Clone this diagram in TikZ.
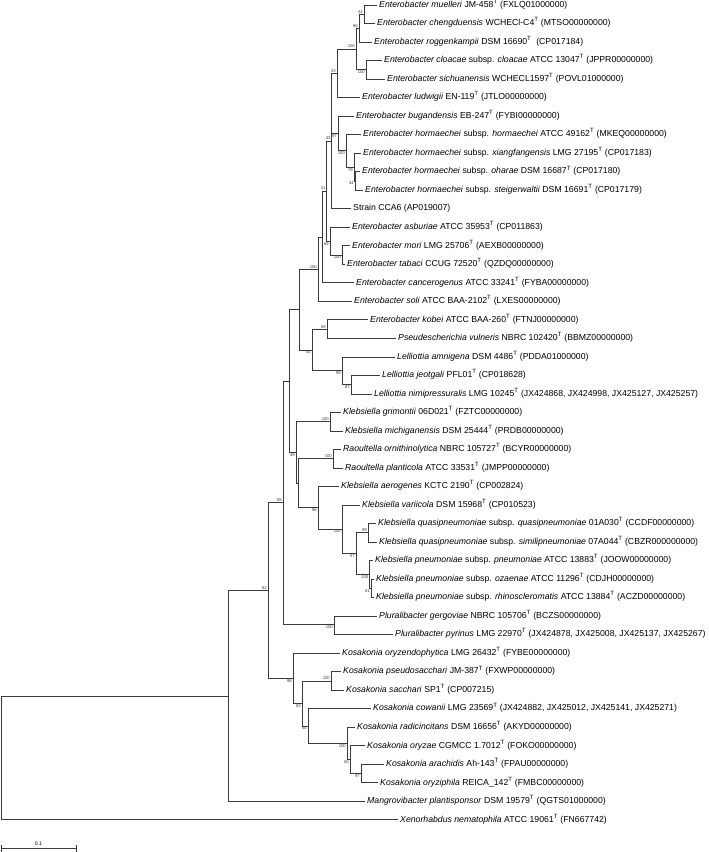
\documentclass[tikz,border=0pt]{standalone}
\usepackage{fontspec}
\setmainfont{Liberation Sans}
\usepackage{tikz}
\usetikzlibrary{calc}
\definecolor{Branch}{HTML}{3A3A3A}
\definecolor{Boot}{HTML}{3A3A3A}
\newcommand{\TypeT}{\textsuperscript{T}}
\tikzset{
  brline/.style={draw=Branch,line width=.75pt},
  taxon/.style={anchor=west,inner xsep=2pt,inner ysep=0pt,text height=6.3pt,text depth=1.9pt,font=\fontsize{8.7}{10}\selectfont},
  bsup/.style={anchor=south east,inner xsep=1pt,inner ysep=.8pt,text=Boot,font=\fontsize{4.2}{5}\selectfont},
  bsdn/.style={anchor=north east,inner xsep=1pt,inner ysep=.8pt,text=Boot,font=\fontsize{4.2}{5}\selectfont},
  scalelbl/.style={anchor=south,inner sep=0pt,font=\fontsize{5.2}{6}\selectfont}
}

\begin{document}
\begin{tikzpicture}[x=1pt,y=-1pt]
  \useasboundingbox (0,0) rectangle (709,852);
  % taxa
  \node[taxon] (muel) at (377,5.0) {\textit{Enterobacter muelleri} JM-458\TypeT{} (FXLQ01000000)};
  \node[taxon] (cheng) at (375,23.5) {\textit{Enterobacter chengduensis} WCHECl-C4\TypeT{} (MTSO00000000)};
  \node[taxon] (rogg) at (372,42.0) {\textit{Enterobacter roggenkampii} DSM 16690\TypeT\ \ (CP017184)};
  \node[taxon] (cloa) at (382,60.6) {\textit{Enterobacter cloacae} subsp. \textit{cloacae} ATCC 13047\TypeT{} (JPPR00000000)};
  \node[taxon] (sich) at (385,79.1) {\textit{Enterobacter sichuanensis} WCHECL1597\TypeT{} (POVL01000000)};
  \node[taxon] (ludw) at (360,97.6) {\textit{Enterobacter ludwigii} EN-119\TypeT{} (JTLO00000000)};
  \node[taxon] (buga) at (354,116.1) {\textit{Enterobacter bugandensis} EB-247\TypeT{} (FYBI00000000)};
  \node[taxon] (hhor) at (361,134.6) {\textit{Enterobacter hormaechei} subsp. \textit{hormaechei} ATCC 49162\TypeT{} (MKEQ00000000)};
  \node[taxon] (hxia) at (361,153.2) {\textit{Enterobacter hormaechei} subsp. \textit{xiangfangensis} LMG 27195\TypeT{} (CP017183)};
  \node[taxon] (hoha) at (360,171.7) {\textit{Enterobacter hormaechei} subsp. \textit{oharae} DSM 16687\TypeT{} (CP017180)};
  \node[taxon] (hste) at (363,190.2) {\textit{Enterobacter hormaechei} subsp. \textit{steigerwaltii} DSM 16691\TypeT{} (CP017179)};
  \node[taxon] (cca6) at (351,208.7) {Strain CCA6 (AP019007)};
  \node[taxon] (asbu) at (350,227.2) {\textit{Enterobacter asburiae} ATCC 35953\TypeT{} (CP011863)};
  \node[taxon] (mori) at (350,245.8) {\textit{Enterobacter mori} LMG 25706\TypeT{} (AEXB00000000)};
  \node[taxon] (taba) at (345,264.3) {\textit{Enterobacter tabaci} CCUG 72520\TypeT{} (QZDQ00000000)};
  \node[taxon] (canc) at (354,282.8) {\textit{Enterobacter cancerogenus} ATCC 33241\TypeT{} (FYBA00000000)};
  \node[taxon] (soli) at (352,301.3) {\textit{Enterobacter soli} ATCC BAA-2102\TypeT{} (LXES00000000)};
  \node[taxon] (kobe) at (368,319.8) {\textit{Enterobacter kobei} ATCC BAA-260\TypeT{} (FTNJ00000000)};
  \node[taxon] (pvul) at (396,338.4) {\textit{Pseudescherichia vulneris} NBRC 102420\TypeT{} (BBMZ00000000)};
  \node[taxon] (lamn) at (395,356.9) {\textit{Lelliottia amnigena} DSM 4486\TypeT{} (PDDA01000000)};
  \node[taxon] (ljeo) at (380,375.4) {\textit{Lelliottia jeotgali} PFL01\TypeT{} (CP018628)};
  \node[taxon] (lnim) at (372,393.9) {\textit{Lelliottia nimipressuralis} LMG 10245\TypeT{} (JX424868, JX424998, JX425127, JX425257)};
  \node[taxon] (kgri) at (341,412.4) {\textit{Klebsiella grimontii} 06D021\TypeT{} (FZTC00000000)};
  \node[taxon] (kmic) at (343,430.9) {\textit{Klebsiella michiganensis} DSM 25444\TypeT{} (PRDB00000000)};
  \node[taxon] (rorn) at (341,449.5) {\textit{Raoultella ornithinolytica} NBRC 105727\TypeT{} (BCYR00000000)};
  \node[taxon] (rpla) at (343,468.0) {\textit{Raoultella planticola} ATCC 33531\TypeT{} (JMPP00000000)};
  \node[taxon] (kaer) at (339,486.5) {\textit{Klebsiella aerogenes} KCTC 2190\TypeT{} (CP002824)};
  \node[taxon] (kvar) at (360,505.0) {\textit{Klebsiella variicola} DSM 15968\TypeT{} (CP010523)};
  \node[taxon] (kqqu) at (376,523.5) {\textit{Klebsiella quasipneumoniae} subsp. \textit{quasipneumoniae} 01A030\TypeT{} (CCDF00000000)};
  \node[taxon] (kqsi) at (377,542.0) {\textit{Klebsiella quasipneumoniae} subsp. \textit{similipneumoniae} 07A044\TypeT{} (CBZR000000000)};
  \node[taxon] (kppn) at (373,560.6) {\textit{Klebsiella pneumoniae} subsp. \textit{pneumoniae} ATCC 13883\TypeT{} (JOOW00000000)};
  \node[taxon] (kpoz) at (374,579.1) {\textit{Klebsiella pneumoniae} subsp. \textit{ozaenae} ATCC 11296\TypeT{} (CDJH00000000)};
  \node[taxon] (kprh) at (374,597.6) {\textit{Klebsiella pneumoniae} subsp. \textit{rhinoscleromatis} ATCC 13884\TypeT{} (ACZD00000000)};
  \node[taxon] (pger) at (377,616.1) {\textit{Pluralibacter gergoviae} NBRC 105706\TypeT{} (BCZS00000000)};
  \node[taxon] (ppyr) at (393,634.6) {\textit{Pluralibacter pyrinus} LMG 22970\TypeT{} (JX424878, JX425008, JX425137, JX425267)};
  \node[taxon] (kory) at (340,653.2) {\textit{Kosakonia oryzendophytica} LMG 26432\TypeT{} (FYBE00000000)};
  \node[taxon] (kpse) at (341,671.7) {\textit{Kosakonia pseudosacchari} JM-387\TypeT{} (FXWP00000000)};
  \node[taxon] (ksac) at (344,690.2) {\textit{Kosakonia sacchari} SP1\TypeT{} (CP007215)};
  \node[taxon] (kcow) at (371,708.7) {\textit{Kosakonia cowanii} LMG 23569\TypeT{} (JX424882, JX425012, JX425141, JX425271)};
  \node[taxon] (krad) at (355,727.2) {\textit{Kosakonia radicincitans} DSM 16656\TypeT{} (AKYD00000000)};
  \node[taxon] (koza) at (365,745.8) {\textit{Kosakonia oryzae} CGMCC 1.7012\TypeT{} (FOKO00000000)};
  \node[taxon] (kara) at (384,764.3) {\textit{Kosakonia arachidis} Ah-143\TypeT{} (FPAU00000000)};
  \node[taxon] (kozi) at (378,782.8) {\textit{Kosakonia oryziphila} REICA\_142\TypeT{} (FMBC00000000)};
  \node[taxon] (mpla) at (365,801.3) {\textit{Mangrovibacter plantisponsor} DSM 19579\TypeT{} (QGTS01000000)};
  \node[taxon] (xnem) at (398,819.8) {\textit{Xenorhabdus nematophila} ATCC 19061\TypeT{} (FN667742)};

  % internal nodes
  \coordinate (n44a) at (364,14.25);
  \coordinate (n65) at (359,28.1);
  \coordinate (n100b) at (366,69.85);
  \coordinate (n100a) at (356,49.0);
  \coordinate (n43a) at (337,73.3);
  \coordinate (n44b) at (355,181.0);
  \coordinate (n79) at (354,167.1);
  \coordinate (n100c) at (346,150.8);
  \coordinate (n97a) at (338,133.5);
  \coordinate (n43b) at (331.7,141.0);
  \coordinate (n100d) at (342,255.0);
  \coordinate (n69a) at (330,241.1);
  \coordinate (n31) at (326.7,191.0);
  \coordinate (nEc) at (322,236.9);
  \coordinate (n100e) at (318,269.1);
  \coordinate (n69b) at (327,329.1);
  \coordinate (n87) at (351,384.6);
  \coordinate (n99a) at (342,370.8);
  \coordinate (n45) at (312,349.9);
  \coordinate (nEn) at (299,309.5);
  \coordinate (n100k) at (330,421.7);
  \coordinate (n100r) at (333,458.8);
  \coordinate (n61) at (371,588.4);
  \coordinate (n100h) at (369.5,574.5);
  \coordinate (n99b) at (368,532.8);
  \coordinate (n97b) at (356,553.6);
  \coordinate (n100g) at (342,528.9);
  \coordinate (n96) at (318,507.2);
  \coordinate (nKr) at (298.5,483.0);
  \coordinate (n49) at (296,452.3);
  \coordinate (nEk) at (289,380.9);
  \coordinate (n100p) at (334,624.4);
  \coordinate (n58) at (283,502.6);
  \coordinate (n100s) at (331,681.0);
  \coordinate (n97c) at (361,773.6);
  \coordinate (n50) at (350,759.7);
  \coordinate (n100f) at (347,743.5);
  \coordinate (n54) at (308,726.1);
  \coordinate (n83) at (302,703.5);
  \coordinate (n98) at (293,678.3);
  \coordinate (n82) at (268,590.5);
  \coordinate (nIn) at (228,695.9);
  \coordinate (nRoot) at (1,757.9);

  % branches
  \draw[brline] (n44a) |- (muel.west) (n44a) |- (cheng.west);
  \draw[brline] (n65) |- (n44a) (n65) |- (rogg.west);
  \draw[brline] (n100b) |- (cloa.west) (n100b) |- (sich.west);
  \draw[brline] (n100a) |- (n65) (n100a) |- (n100b);
  \draw[brline] (n43a) |- (n100a) (n43a) |- (ludw.west);
  \draw[brline] (n44b) |- (hoha.west) (n44b) |- (hste.west);
  \draw[brline] (n79) |- (hxia.west) (n79) |- (n44b);
  \draw[brline] (n100c) |- (hhor.west) (n100c) |- (n79);
  \draw[brline] (n97a) |- (buga.west) (n97a) |- (n100c);
  \draw[brline] (n43b) |- (n43a) (n43b) |- (n97a) (n43b) |- (cca6.west);
  \draw[brline] (n100d) |- (mori.west) (n100d) |- (taba.west);
  \draw[brline] (n69a) |- (asbu.west) (n69a) |- (n100d);
  \draw[brline] (n31) |- (n43b) (n31) |- (n69a);
  \draw[brline] (nEc) |- (n31) (nEc) |- (canc.west);
  \draw[brline] (n100e) |- (nEc) (n100e) |- (soli.west);
  \draw[brline] (n69b) |- (kobe.west) (n69b) |- (pvul.west);
  \draw[brline] (n87) |- (ljeo.west) (n87) |- (lnim.west);
  \draw[brline] (n99a) |- (lamn.west) (n99a) |- (n87);
  \draw[brline] (n45) |- (n69b) (n45) |- (n99a);
  \draw[brline] (nEn) |- (n100e) (nEn) |- (n45);
  \draw[brline] (n100k) |- (kgri.west) (n100k) |- (kmic.west);
  \draw[brline] (n100r) |- (rorn.west) (n100r) |- (rpla.west);
  \draw[brline] (n61) |- (kpoz.west) (n61) |- (kprh.west);
  \draw[brline] (n100h) |- (kppn.west) (n100h) |- (n61);
  \draw[brline] (n99b) |- (kqqu.west) (n99b) |- (kqsi.west);
  \draw[brline] (n97b) |- (n99b) (n97b) |- (n100h);
  \draw[brline] (n100g) |- (kvar.west) (n100g) |- (n97b);
  \draw[brline] (n96) |- (kaer.west) (n96) |- (n100g);
  \draw[brline] (nKr) |- (n100r) (nKr) |- (n96);
  \draw[brline] (n49) |- (n100k) (n49) |- (nKr);
  \draw[brline] (nEk) |- (nEn) (nEk) |- (n49);
  \draw[brline] (n100p) |- (pger.west) (n100p) |- (ppyr.west);
  \draw[brline] (n58) |- (nEk) (n58) |- (n100p);
  \draw[brline] (n100s) |- (kpse.west) (n100s) |- (ksac.west);
  \draw[brline] (n97c) |- (kara.west) (n97c) |- (kozi.west);
  \draw[brline] (n50) |- (koza.west) (n50) |- (n97c);
  \draw[brline] (n100f) |- (krad.west) (n100f) |- (n50);
  \draw[brline] (n54) |- (kcow.west) (n54) |- (n100f);
  \draw[brline] (n83) |- (n100s) (n83) |- (n54);
  \draw[brline] (n98) |- (kory.west) (n98) |- (n83);
  \draw[brline] (n82) |- (n58) (n82) |- (n98);
  \draw[brline] (nIn) |- (n82) (nIn) |- (mpla.west);
  \draw[brline] (nRoot) |- (nIn) (nRoot) |- (xnem.west);

  % support values
  \node[bsup] (s44a) at (n44a) {44};
  \node[bsup] (s65) at (n65) {65};
  \node[bsup] (s100a) at (n100a) {100};
  \node[bsdn] (s100b) at (n100b) {100};
  \node[bsup] (s43a) at (n43a) {43};
  \node[bsdn] (s44b) at (n44b) {44};
  \node[bsdn] (s79) at (n79) {79};
  \node[bsdn] (s100c) at (n100c) {100};
  \node[bsdn] (s97a) at (n97a) {97};
  \node[bsup] (s43b) at (n43b) {43};
  \node[bsdn] (s100d) at (n100d) {100};
  \node[bsdn] (s69a) at (n69a) {69};
  \node[bsup] (s31) at (n31) {31};
  \node[bsup] (s100e) at (n100e) {100};
  \node[bsup] (s69b) at (n69b) {69};
  \node[bsdn] (s87) at (n87) {87};
  \node[bsdn] (s99a) at (n99a) {99};
  \node[bsdn] (s45) at (n45) {45};
  \node[bsup] (s100k) at (n100k) {100};
  \node[bsup] (s100r) at (n100r) {100};
  \node[bsdn] (s61) at (n61) {61};
  \node[bsdn] (s100h) at (n100h) {100};
  \node[bsup] (s99b) at (n99b) {99};
  \node[bsdn] (s97b) at (n97b) {97};
  \node[bsdn] (s100g) at (n100g) {100};
  \node[bsdn] (s96) at (n96) {96};
  \node[bsdn] (s49) at (n49) {49};
  \node[bsdn] (s100p) at (n100p) {100};
  \node[bsup] (s58) at (n58) {58};
  \node[bsup] (s100s) at (n100s) {100};
  \node[bsdn] (s97c) at (n97c) {97};
  \node[bsdn] (s50) at (n50) {50};
  \node[bsdn] (s100f) at (n100f) {100};
  \node[bsdn] (s54) at (n54) {54};
  \node[bsdn] (s83) at (n83) {83};
  \node[bsdn] (s98) at (n98) {98};
  \node[bsup] (s82) at (n82) {82};

  % scale bar
  \coordinate (sbL) at (1,848.5);
  \coordinate (sbR) at (76,848.5);
  \draw[brline] (sbL) -- (sbR);
  \draw[brline] ([yshift=3.5pt]sbL) -- ([yshift=-3.5pt]sbL);
  \draw[brline] ([yshift=3.5pt]sbR) -- ([yshift=-3.5pt]sbR);
  \node[scalelbl,yshift=3pt] (sbT) at ($(sbL)!.5!(sbR)$) {0.1};
\end{tikzpicture}
\end{document}
